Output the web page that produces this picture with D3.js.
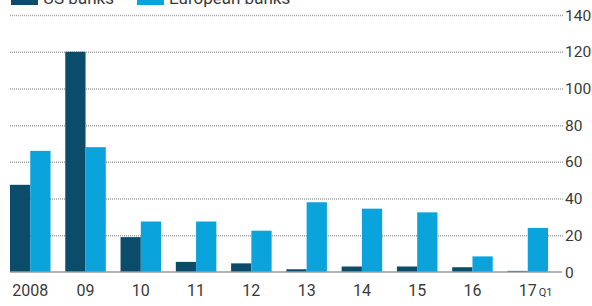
<!DOCTYPE html>
<html>
<head>
<meta charset="utf-8">
<script src="https://cdn.jsdelivr.net/npm/d3@7"></script>
<style>
  body { margin: 0; background: #fff; }
  text { font-family: Roboto, "Liberation Sans", sans-serif; fill: #3a3a3a; }
</style>
</head>
<body>
<div id="main"></div>
<script>
// chart data
var years = ["2008", "09", "10", "11", "12", "13", "14", "15", "16", "17"];
var usBanks = [47.5, 120, 19, 5.5, 4.7, 1.5, 3, 3, 2.6, 0.6];
var europeanBanks = [66, 68, 27.5, 27.5, 22.5, 38, 34.5, 32.5, 8.5, 24];
var yTicks = [0, 20, 40, 60, 80, 100, 120, 140];
var seriesNames = ["US banks", "European banks"];
var colors = ["#0c4c6b", "#0aa3db"];

var width = 592, height = 306;

var svg = d3.select("#main")
  .append("svg")
  .attr("width", width)
  .attr("height", height);

// scales
var x = d3.scaleBand()
  .domain(years)
  .range([10, 548])
  .paddingInner(0.267)
  .paddingOuter(0);

var xSub = d3.scaleBand()
  .domain(seriesNames)
  .range([0, x.bandwidth()]);

var y = d3.scaleLinear()
  .domain([0, 140])
  .range([272, 15]);

// dotted gridlines
svg.append("g")
  .selectAll("line")
  .data(yTicks.filter(function (d) { return d > 0; }))
  .enter()
  .append("line")
  .attr("x1", 10)
  .attr("x2", 563)
  .attr("y1", function (d) { return y(d) + 0.5; })
  .attr("y2", function (d) { return y(d) + 0.5; })
  .attr("stroke", "#a3a3a3")
  .attr("stroke-width", 1.5)
  .attr("stroke-dasharray", "1,1");

// right hand labels
svg.append("g")
  .selectAll("text")
  .data(yTicks)
  .enter()
  .append("text")
  .attr("x", 565)
  .attr("y", function (d) { return y(d); })
  .attr("dy", "0.36em")
  .style("font-size", "15.5px")
  .text(function (d) { return d; });

// bars
var rows = years.map(function (yr, i) {
  return { year: yr, values: [usBanks[i], europeanBanks[i]] };
});

var groups = svg.append("g")
  .selectAll("g")
  .data(rows)
  .enter()
  .append("g")
  .attr("transform", function (d) { return "translate(" + x(d.year) + ",0)"; });

groups.selectAll("rect")
  .data(function (d) { return d.values.map(function (v, j) { return { key: seriesNames[j], value: v, idx: j }; }); })
  .enter()
  .append("rect")
  .attr("x", function (d) { return xSub(d.key); })
  .attr("width", xSub.bandwidth())
  .attr("y", function (d) { return y(d.value); })
  .attr("height", function (d) { return y(0) - y(d.value); })
  .attr("fill", function (d) { return colors[d.idx]; });

// zero baseline
svg.append("line")
  .attr("x1", 10)
  .attr("x2", 562)
  .attr("y1", y(0))
  .attr("y2", y(0))
  .attr("stroke", "#9a9a9a")
  .attr("stroke-width", 1.5);

// x labels
svg.append("g")
  .selectAll("text")
  .data(years)
  .enter()
  .append("text")
  .attr("x", function (d) { return x(d) + x.bandwidth() / 2; })
  .attr("y", 296)
  .attr("text-anchor", "middle")
  .style("font-size", "16px")
  .text(function (d) { return d; });

svg.append("text")
  .attr("x", x("17") + x.bandwidth() / 2 + 11)
  .attr("y", 296)
  .style("font-size", "11px")
  .text("Q1");

// legend (cut off at the top edge, as in the original)
var legend = svg.append("g")
  .selectAll("g")
  .data(seriesNames)
  .enter()
  .append("g")
  .attr("transform", function (d, i) { return "translate(" + [11, 137][i] + ",0)"; });

legend.append("rect")
  .attr("x", 0)
  .attr("y", -10)
  .attr("width", 27)
  .attr("height", 15)
  .attr("fill", function (d, i) { return colors[i]; });

legend.append("text")
  .attr("x", 32)
  .attr("y", 4)
  .style("font-size", "17px")
  .text(function (d) { return d; });
</script>
</body>
</html>
